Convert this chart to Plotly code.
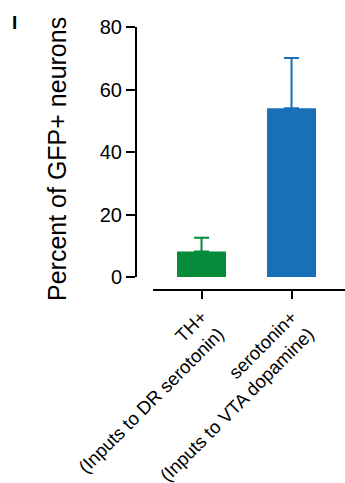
import plotly.graph_objects as go

categories = ["TH+<br>(Inputs to DR serotonin)", "serotonin+<br>(Inputs to VTA dopamine)"]
means = [8.2, 54.0]
sem_upper = [4.4, 16.1]
colors = ["#048C3A", "#1770B8"]
y_ticks = [0, 20, 40, 60, 80]

W, H = 345, 483
L, R, T, B = 136, 0, 27, 193
pw = W - L - R
ph = H - T - B

fig = go.Figure()
for i in range(2):
    fig.add_trace(go.Bar(
        x=[i], y=[means[i]], width=0.544,
        marker=dict(color=colors[i], line=dict(width=0)),
        error_y=dict(type="data", array=[sem_upper[i]], arrayminus=[0], symmetric=False,
                     color=colors[i], thickness=2, width=7.5),
        showlegend=False,
    ))

font = "Liberation Sans, Arial, sans-serif"
fig.update_layout(
    width=W, height=H,
    margin=dict(l=L, r=R, t=T, b=B, pad=0, autoexpand=False),
    paper_bgcolor="white", plot_bgcolor="white",
    font=dict(family=font, color="black"),
    xaxis=dict(
        domain=[(153 - L) / pw, 1], range=[-0.539, 1.594],
        anchor="free", position=0, automargin=False,
        tickmode="array", tickvals=[0, 1], ticktext=categories,
        tickangle=-45, tickfont=dict(size=18.5, family=font, color="black"),
        ticks="outside", ticklen=8, tickwidth=2, tickcolor="black",
        showline=True, linewidth=2, linecolor="black",
        showgrid=False, zeroline=False,
    ),
    yaxis=dict(
        domain=[13 / ph, 1], range=[0, 80],
        anchor="free", position=0, automargin=False,
        tickmode="array", tickvals=y_ticks,
        tickfont=dict(size=20, family=font, color="black"),
        ticks="outside", ticklen=9, tickwidth=2, tickcolor="black",
        showline=True, linewidth=2, linecolor="black",
        showgrid=False, zeroline=False,
    ),
    annotations=[
        dict(text="Percent of GFP+ neurons", textangle=-90,
             x=(57 - L) / pw, y=1 - (159 - T) / ph, xref="paper", yref="paper",
             xanchor="center", yanchor="middle", showarrow=False,
             font=dict(size=25, family=font, color="black")),
        dict(text="<b>I</b>", x=(10 - L) / pw, y=1 + (T - 10) / ph,
             xref="paper", yref="paper", xanchor="left", yanchor="top",
             showarrow=False, font=dict(size=19, family=font, color="black")),
    ],
)

fig.write_html("out.html", config={"displayModeBar": False},
               post_script="document.body.style.margin='0';document.body.style.overflow='hidden';")
